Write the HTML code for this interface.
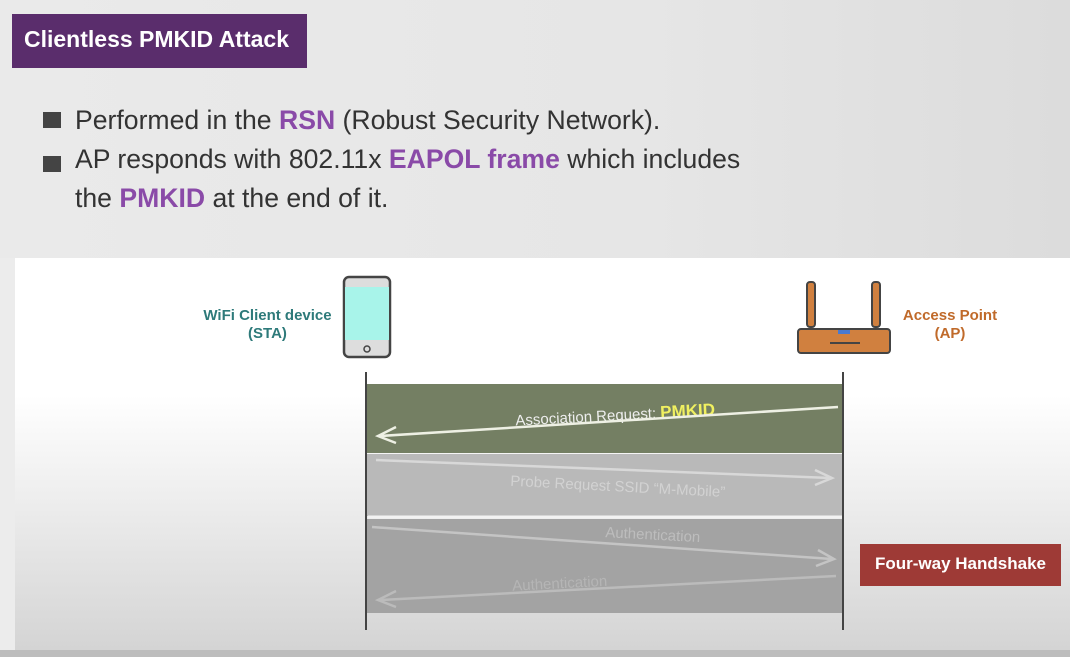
<!DOCTYPE html><html><head><style>
body{margin:0;width:1070px;height:657px;overflow:hidden;font-family:"Liberation Sans",sans-serif;position:relative;background:#ececec}
.a{position:absolute}
</style></head><body>
<div class="a" style="left:0;top:0;width:1070px;height:258px;background:linear-gradient(90deg,#eaeaea,#e6e6e6 60%,#dcdcdc)"></div>
<div class="a" style="left:12px;top:14px;width:295px;height:54px;background:#5a2d6c"></div>
<div class="a" style="left:24px;top:26px;color:#fff;font-weight:bold;font-size:23px">Clientless PMKID Attack</div>
<div class="a" style="left:43px;top:112px;width:18px;height:16px;background:#444"></div>
<div class="a" style="left:43px;top:156px;width:18px;height:16px;background:#444"></div>
<div class="a" style="left:75px;top:101px;font-size:26.6px;color:#333;line-height:39px">Performed in the <b style="color:#8a4aa8">RSN</b> (Robust Security Network).<br>AP responds with 802.11x <b style="color:#8a4aa8">EAPOL frame</b> which includes<br>the <b style="color:#8a4aa8">PMKID</b> at the end of it.</div>
<div class="a" style="left:15px;top:258px;width:1055px;height:392px;background:linear-gradient(180deg,#fff 0%,#fff 35%,#d4d4d4 100%)"></div>
<div class="a" style="left:0;top:650px;width:1070px;height:7px;background:#bdbdbd"></div>
<div class="a" style="left:190px;top:307px;width:155px;text-align:center;color:#2e7a7a;font-weight:bold;font-size:15px;line-height:18px">WiFi Client device<br>(STA)</div>
<div class="a" style="left:880px;top:307px;width:140px;text-align:center;color:#c06a2a;font-weight:bold;font-size:15px;line-height:18px">Access Point<br>(AP)</div>
<div class="a" style="left:366px;top:384px;width:478px;height:69px;background:#747f63"></div>
<div class="a" style="left:366px;top:454px;width:478px;height:62px;background:#b9b9b9"></div>
<div class="a" style="left:366px;top:519px;width:478px;height:94px;background:#a3a3a3"></div>
<div class="a" style="left:860px;top:544px;width:201px;height:42px;background:#9e3a36"></div>
<div class="a" style="left:860px;top:554px;width:201px;text-align:center;color:#fff;font-weight:bold;font-size:17px">Four-way Handshake</div>
<svg class="a" style="left:0;top:0" width="1070" height="657">
<line x1="366" y1="372" x2="366" y2="630" stroke="#444" stroke-width="2"/>
<line x1="843" y1="372" x2="843" y2="630" stroke="#444" stroke-width="2"/>
<rect x="344" y="277" width="46" height="80" rx="5" fill="#ddd" stroke="#444" stroke-width="2.5"/>
<rect x="345" y="287" width="44" height="53" fill="#a8f4ea"/>
<circle cx="367" cy="349" r="3" fill="none" stroke="#444" stroke-width="1.5"/>
<rect x="807" y="282" width="8" height="45" rx="3" fill="#d0803f" stroke="#444" stroke-width="2"/>
<rect x="872" y="282" width="8" height="45" rx="3" fill="#d0803f" stroke="#444" stroke-width="2"/>
<rect x="798" y="329" width="92" height="24" rx="3" fill="#d0803f" stroke="#444" stroke-width="2"/>
<rect x="838" y="330" width="12" height="4" fill="#4a7ad0"/>
<line x1="830" y1="343" x2="860" y2="343" stroke="#444" stroke-width="2"/>
<g font-family="Liberation Sans,sans-serif" font-size="15">
<text x="515" y="420" fill="#eee" transform="rotate(-3 620 410)">Association Request: <tspan fill="#f0f060" font-weight="bold" font-size="17">PMKID</tspan></text>
<text x="510" y="492" fill="#d2d2d2" transform="rotate(3 630 492)">Probe Request SSID “M-Mobile”</text>
<text x="605" y="540" fill="#bdbdbd" transform="rotate(3 660 540)">Authentication</text>
<text x="512" y="588" fill="#b5b5b5" transform="rotate(-3 565 580)">Authentication</text>
</g>
<g stroke-width="2.5" fill="none">
<line x1="838" y1="407" x2="380" y2="436" stroke="#eef0e4"/><path d="M396 427 L378 436 L396 443" stroke="#eef0e4"/>
<line x1="376" y1="460" x2="830" y2="478" stroke="#d8d8d8"/><path d="M815 470 L832 478 L815 485" stroke="#d8d8d8"/>
<line x1="372" y1="527" x2="832" y2="559" stroke="#c4c4c4"/><path d="M818 550 L834 559 L816 566" stroke="#c4c4c4"/>
<line x1="836" y1="576" x2="380" y2="600" stroke="#bbb"/><path d="M396 591 L378 600 L396 607" stroke="#bbb"/>
</g>
<line x1="368" y1="517" x2="842" y2="517" stroke="#f2f2f2" stroke-width="3"/>
</svg>
</body></html>
